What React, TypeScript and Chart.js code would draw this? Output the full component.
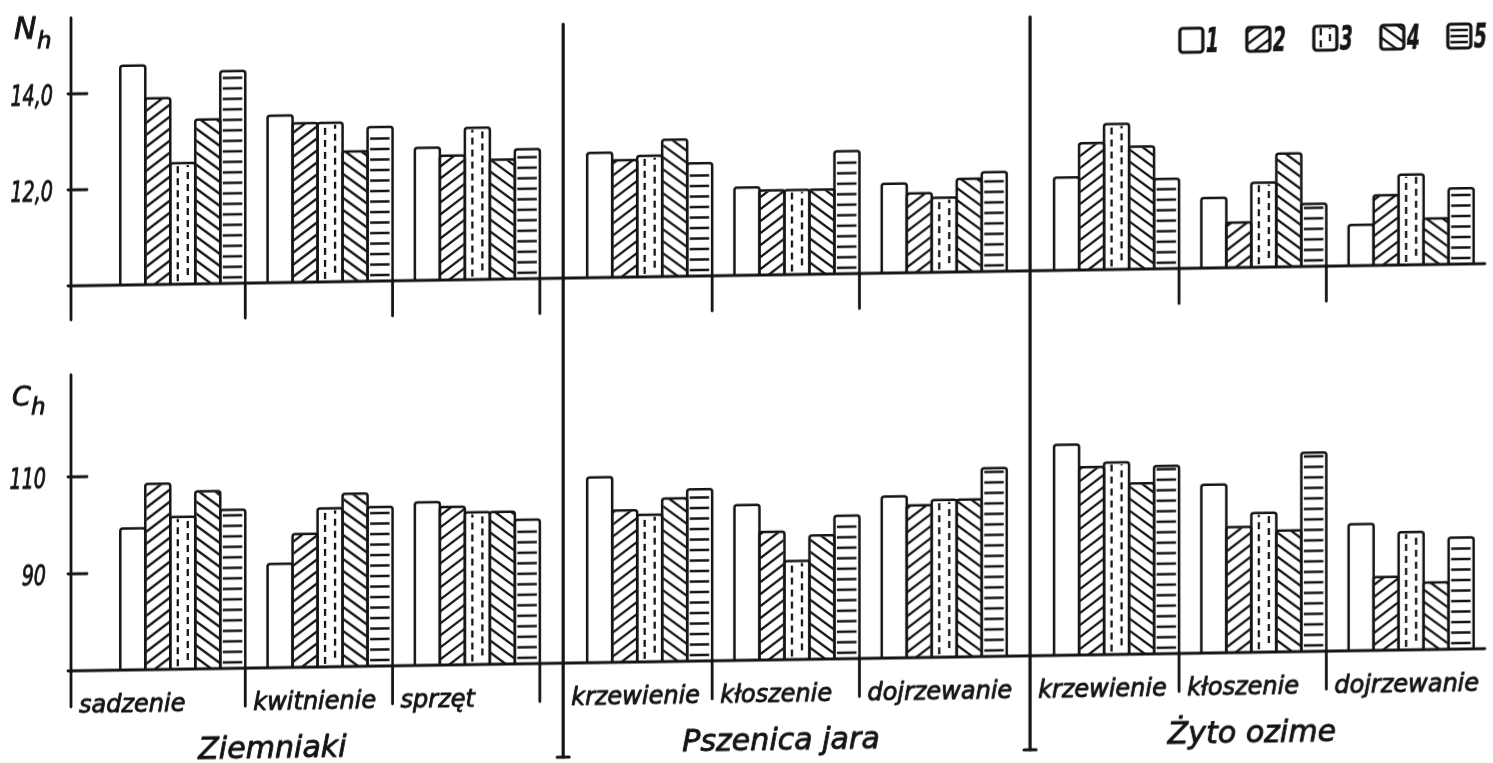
import { useEffect, useRef } from 'react';
import { Chart, registerables } from 'chart.js';

Chart.register(...registerables);

// Crops and the growth stages sampled for each of them
const SECTIONS = ['Ziemniaki', 'Pszenica jara', 'Żyto ozime'];
const STAGES = [
  ['sadzenie', 'kwitnienie', 'sprzęt'],
  ['krzewienie', 'kłoszenie', 'dojrzewanie'],
  ['krzewienie', 'kłoszenie', 'dojrzewanie'],
];
const SERIES = ['1', '2', '3', '4', '5'];

// N_h per stage (9 stages), one array per variant
const N1 = [14.57, 13.48, 12.76, 12.6, 11.83, 11.86, 11.93, 11.46, 10.85];
const N2 = [13.88, 13.31, 12.59, 12.44, 11.76, 11.65, 12.64, 10.94, 11.46];
const N3 = [12.52, 13.31, 13.16, 12.52, 11.76, 11.55, 13.03, 11.76, 11.88];
const N4 = [13.42, 12.71, 12.49, 12.85, 11.76, 11.94, 12.55, 12.36, 10.96];
const N5 = [14.42, 13.21, 12.7, 12.35, 12.55, 12.07, 11.87, 11.3, 11.58];

// C_h per stage
const C1 = [99.2, 91.4, 103.6, 108.2, 102.0, 103.3, 113.4, 104.7, 96.1];
const C2 = [108.3, 97.5, 102.6, 101.3, 96.4, 101.4, 108.7, 95.9, 85.1];
const C3 = [101.4, 102.7, 101.4, 100.3, 90.3, 102.4, 109.6, 98.7, 94.3];
const C4 = [106.6, 105.6, 101.4, 103.6, 95.5, 102.4, 105.2, 95.0, 83.8];
const C5 = [102.7, 102.8, 99.7, 105.4, 99.5, 108.8, 108.7, 111.0, 93.0];

const N_TICKS = [12, 14];
const C_TICKS = [90, 110];
const N_BASE = 10;
const C_BASE = 70;

// ---- layout / style ----
const W = 1493;
const H = 800;
const SLANT_DEG = -0.9;
const AXIS_X = 71;
const RIGHT_X = 1485;
const FIRST_CENTER = 182.8;
const STAGE_STEP = 147.3;
const SECTION_STEP = 3.17;
const BAR_W = 25;
const N_BASE_PX = 287;
const N_PX = 48;
const C_BASE_PX = 672;
const C_PX = 4.85;
const INK = '#141414';
const FONT = '"DejaVu Sans", "Liberation Sans", sans-serif';
const HATCH = ['none', 'slash', 'dash', 'backslash', 'rows'];
const SECTION_END_TICK = [true, false, false];
const SECTION_LABEL_SHIFT = [-33, -4, 0];

const STAGE_POS = STAGES.flatMap((st, s) => st.map((_, k) => s * SECTION_STEP + k));
const STAGE_SECTION = STAGES.flatMap((st, s) => st.map(() => s));
const STAGE_NAMES = STAGES.flat();

function drawHatch(ctx: CanvasRenderingContext2D, kind: string, l: number, t: number, r: number, b: number, rowGap = 10.5) {
  if (kind === 'none') return;
  const w = r - l;
  ctx.save();
  ctx.beginPath();
  ctx.rect(l + 1, t + 1, w - 2, b - t - 1);
  ctx.clip();
  ctx.strokeStyle = INK;
  ctx.lineWidth = 2.3;
  ctx.lineCap = 'butt';
  ctx.beginPath();
  if (kind === 'slash' || kind === 'backslash') {
    const rise = w * 0.75;
    for (let yy = b + rise; yy > t - 2; yy -= 12) {
      if (kind === 'slash') {
        ctx.moveTo(l, yy);
        ctx.lineTo(r, yy - rise);
      } else {
        ctx.moveTo(l, yy - rise);
        ctx.lineTo(r, yy);
      }
    }
  } else if (kind === 'dash') {
    const cols = [l + w * 0.3, l + w * 0.7];
    cols.forEach((cx, ci) => {
      for (let yy = b - 3 - ci * 6; yy > t + 2; yy -= 12) {
        ctx.moveTo(cx, yy);
        ctx.lineTo(cx, Math.max(t + 2, yy - 7));
      }
    });
  } else if (kind === 'rows') {
    for (let yy = b - 6; yy > t + 3; yy -= rowGap) {
      ctx.moveTo(l + 2.5, yy);
      ctx.lineTo(r - 3, yy);
    }
  }
  ctx.stroke();
  ctx.restore();
}

function text(ctx: CanvasRenderingContext2D, s: string, x: number, y: number, font: string, align: CanvasTextAlign, sx = 1, weight = 0.9) {
  ctx.save();
  ctx.translate(x, y);
  ctx.scale(sx, 1);
  ctx.font = font;
  ctx.textAlign = align;
  ctx.textBaseline = 'alphabetic';
  ctx.fillStyle = INK;
  ctx.strokeStyle = INK;
  ctx.lineWidth = weight;
  ctx.lineJoin = 'round';
  ctx.fillText(s, 0, 0);
  if (weight > 0) ctx.strokeText(s, 0, 0);
  ctx.restore();
}

function line(ctx: CanvasRenderingContext2D, x1: number, y1: number, x2: number, y2: number, lw = 2.6) {
  ctx.save();
  ctx.strokeStyle = INK;
  ctx.lineWidth = lw;
  ctx.lineCap = 'round';
  ctx.beginPath();
  ctx.moveTo(x1, y1);
  ctx.lineTo(x2, y2);
  ctx.stroke();
  ctx.restore();
}

const framePlugin = {
  id: 'frame',
  beforeDraw(chart: any) {
    const ctx = chart.ctx;
    ctx.save();
    ctx.fillStyle = '#fff';
    ctx.fillRect(0, 0, chart.width, chart.height);
    ctx.restore();
  },
  afterDatasetsDraw(chart: any) {
    const ctx: CanvasRenderingContext2D = chart.ctx;
    const xs = chart.scales.x;
    const yN = chart.scales.yTop;
    const yC = chart.scales.yBot;

    // hatching and outlines of every bar
    chart.data.datasets.forEach((_: any, di: number) => {
      const meta = chart.getDatasetMeta(di);
      const kind = HATCH[di % SERIES.length];
      meta.data.forEach((el: any) => {
        const { x, y, base, width } = el.getProps(['x', 'y', 'base', 'width'], true);
        const l = x - width / 2;
        const r = x + width / 2;
        const t = Math.min(y, base);
        const b = Math.max(y, base);
        drawHatch(ctx, kind, l, t, r, b);
        const rad = 2.5;
        ctx.save();
        ctx.strokeStyle = INK;
        ctx.lineWidth = 2.5;
        ctx.lineJoin = 'round';
        ctx.beginPath();
        ctx.moveTo(l, b);
        ctx.lineTo(l, t + rad);
        ctx.arcTo(l, t, l + rad, t, rad);
        ctx.lineTo(r - rad, t);
        ctx.arcTo(r, t, r, t + rad, rad);
        ctx.lineTo(r, b);
        ctx.stroke();
        ctx.restore();
      });
    });

    const nBase = yN.getPixelForValue(N_BASE);
    const cBase = yC.getPixelForValue(C_BASE);
    const groupHalf = (BAR_W * SERIES.length) / 2;
    const centers = STAGE_POS.map((p) => xs.getPixelForValue(p));
    const axisX = xs.left;
    const rightX = xs.right;

    // baselines
    line(ctx, axisX - 3, nBase, rightX, nBase, 2.8);
    line(ctx, axisX - 3, cBase, rightX, cBase, 2.8);

    // value axes
    line(ctx, axisX, 19, axisX, nBase + 34, 2.8);
    line(ctx, axisX, 376, axisX, cBase + 36, 2.8);
    N_TICKS.forEach((v) => {
      const py = yN.getPixelForValue(v);
      line(ctx, axisX - 3, py, axisX + 16, py, 2.8);
      text(ctx, v.toFixed(1).replace('.', ','), axisX - 18, py + 11, `italic 29px ${FONT}`, 'right', 0.66);
    });
    C_TICKS.forEach((v) => {
      const py = yC.getPixelForValue(v);
      line(ctx, axisX - 3, py, axisX + 16, py, 2.8);
      text(ctx, String(v), axisX - 25, py + 11, `italic 29px ${FONT}`, 'right', 0.66);
    });
    text(ctx, 'N', 14, 39, `italic 30px ${FONT}`, 'left');
    text(ctx, 'h', 37, 49, `italic 23px ${FONT}`, 'left');
    text(ctx, 'C', 12, 406, `italic 27px ${FONT}`, 'left');
    text(ctx, 'h', 31, 415, `italic 23px ${FONT}`, 'left');

    // section dividers crossing both panels
    const sectionLeft: number[] = [];
    STAGE_NAMES.forEach((_, j) => {
      const s = STAGE_SECTION[j];
      if (j > 0 && STAGE_SECTION[j - 1] === s) return;
      if (s === 0) {
        sectionLeft.push(axisX);
        return;
      }
      const dx = centers[j] - groupHalf - 24;
      sectionLeft.push(dx);
      line(ctx, dx, 33, dx, cBase + 94, 3.2);
      line(ctx, dx - 6, cBase + 94, dx + 6, cBase + 94, 3.2);
    });

    // stage separators and stage labels
    STAGE_NAMES.forEach((name, j) => {
      const s = STAGE_SECTION[j];
      const last = j === STAGE_NAMES.length - 1 || STAGE_SECTION[j + 1] !== s;
      const right = centers[j] + groupHalf;
      if (!last || SECTION_END_TICK[s]) {
        line(ctx, right, nBase, right, nBase + 35, 2.8);
        line(ctx, right, cBase, right, cBase + 38, 2.8);
      }
      const first = j === 0 || STAGE_SECTION[j - 1] !== s;
      const cellLeft = first ? sectionLeft[s] : centers[j - 1] + groupHalf;
      text(ctx, name, cellLeft + 8, cBase + 42, `italic 25px ${FONT}`, 'left', 0.96);
    });

    // crop names
    SECTIONS.forEach((name, s) => {
      const lastIdx = STAGE_SECTION.lastIndexOf(s);
      const mid = (sectionLeft[s] + centers[lastIdx] + groupHalf) / 2 + SECTION_LABEL_SHIFT[s];
      text(ctx, name, mid, cBase + 90, `italic 31px ${FONT}`, 'center', 0.97);
    });

    // legend
    chart.data.datasets.slice(0, SERIES.length).forEach((ds: any, i: number) => {
      const bx = 1180 + i * 67;
      const by = 47;
      const bw = 23;
      const bh = 24;
      drawHatch(ctx, HATCH[i], bx, by, bx + bw, by + bh, 6);
      ctx.save();
      ctx.strokeStyle = INK;
      ctx.lineWidth = 3.2;
      ctx.lineJoin = 'round';
      ctx.beginPath();
      ctx.roundRect(bx, by, bw, bh, 3);
      ctx.stroke();
      ctx.restore();
      text(ctx, ds.label, bx + bw + 3, by + bh, `italic bold 34px ${FONT}`, 'left', 0.55, 0.6);
    });
  },
};

export default function App() {
  const canvasRef = useRef<HTMLCanvasElement>(null);

  useEffect(() => {
    const canvas = canvasRef.current;
    if (!canvas) return;
    const mk = (series: number[][], axis: string, base: number) =>
      series.map((vals, i) => ({
        label: SERIES[i],
        data: vals.map((v, j) => ({ x: STAGE_POS[j], y: v })),
        xAxisID: 'x',
        yAxisID: axis,
        stack: 's' + i,
        base,
        backgroundColor: '#ffffff',
        borderWidth: 0,
        barThickness: BAR_W,
      }));

    const chart = new Chart(canvas, {
      type: 'bar',
      data: {
        datasets: [
          ...mk([N1, N2, N3, N4, N5], 'yTop', N_BASE),
          ...mk([C1, C2, C3, C4, C5], 'yBot', C_BASE),
        ] as any,
      },
      options: {
        responsive: false,
        animation: false,
        devicePixelRatio: 1,
        events: [],
        layout: { padding: { left: AXIS_X, right: W - RIGHT_X, top: 0, bottom: 0 } },
        plugins: { legend: { display: false }, tooltip: { enabled: false }, title: { display: false } },
        scales: {
          x: {
            type: 'linear',
            display: false,
            offset: false,
            min: (AXIS_X - FIRST_CENTER) / STAGE_STEP,
            max: (RIGHT_X - FIRST_CENTER) / STAGE_STEP,
          },
          yTop: {
            type: 'linear',
            display: false,
            stacked: false,
            min: N_BASE - (H - N_BASE_PX) / N_PX,
            max: N_BASE + N_BASE_PX / N_PX,
          },
          yBot: {
            type: 'linear',
            display: false,
            stacked: false,
            min: C_BASE - (H - C_BASE_PX) / C_PX,
            max: C_BASE + C_BASE_PX / C_PX,
          },
        },
      } as any,
      plugins: [framePlugin],
    });
    return () => chart.destroy();
  }, []);

  return (
    <div style={{ position: 'fixed', left: 0, top: 0, width: 1493, height: 763, overflow: 'hidden', background: '#fff' }}>
      <div style={{ width: W, height: H, transform: `skewY(${SLANT_DEG}deg)`, transformOrigin: '0 0' }}>
        <canvas ref={canvasRef} width={W} height={H} style={{ display: 'block', width: W, height: H }} />
      </div>
    </div>
  );
}
